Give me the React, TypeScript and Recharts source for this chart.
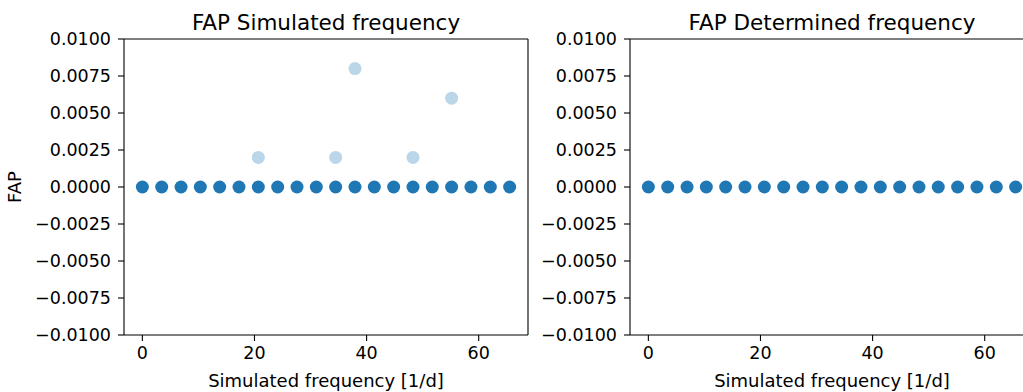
import { ScatterChart, Scatter, XAxis, YAxis, ReferenceLine } from 'recharts';

// simulated frequencies [1/d]
const freqs = [
  0, 3.45, 6.9, 10.34, 13.79, 17.24, 20.69, 24.14, 27.59, 31.03,
  34.48, 37.93, 41.38, 44.83, 48.28, 51.72, 55.17, 58.62, 62.07, 65.52,
];
const fapSimulated = [0, 0, 0, 0, 0, 0, 0, 0, 0, 0, 0, 0, 0, 0, 0, 0, 0, 0, 0, 0];
const fapDetermined = [0, 0, 0, 0, 0, 0, 0, 0, 0, 0, 0, 0, 0, 0, 0, 0, 0, 0, 0, 0];
// the few runs where the simulated FAP was non-zero
const outlierFreqs = [20.69, 34.48, 37.93, 48.28, 55.17];
const outlierFap = [0.002, 0.002, 0.008, 0.002, 0.006];

const xTicks = [0, 20, 40, 60];
const yTicks = [-0.01, -0.0075, -0.005, -0.0025, 0, 0.0025, 0.005, 0.0075, 0.01];

const simData = freqs.map((x, i) => ({ x, y: fapSimulated[i] }));
const detData = freqs.map((x, i) => ({ x, y: fapDetermined[i] }));
const outlierData = outlierFreqs.map((x, i) => ({ x, y: outlierFap[i] }));

const BLUE = '#1f77b4';
const FONT = '"DejaVu Sans", sans-serif';
const xDomain: [number, number] = [-3.276, 68.796];
const yDomain: [number, number] = [-0.01, 0.01];

const fmtY = (v: number) => v.toFixed(4).replace('-', '\u2212');

const dot = (opacity: number) => (props: any) => (
  <circle cx={props.cx} cy={props.cy} r={6.5} fill={BLUE} fillOpacity={opacity} />
);

const axisLine = { stroke: '#000', strokeWidth: 1.1 };
const tickLine = { stroke: '#000', strokeWidth: 1.1 };
const tickStyle = { fill: '#000', fontSize: 17.5, fontFamily: FONT };

function Panel({
  width,
  yWidth,
  right,
  showYLabel,
  data,
  extra,
}: {
  width: number;
  yWidth: number;
  right: number;
  showYLabel: boolean;
  data: { x: number; y: number }[];
  extra?: { x: number; y: number }[];
}) {
  return (
    <ScatterChart width={width} height={392} margin={{ top: 39, right, bottom: 0, left: 0 }}>
      <XAxis
        xAxisId="main"
        type="number"
        dataKey="x"
        domain={xDomain}
        ticks={xTicks}
        allowDataOverflow
        height={57}
        axisLine={axisLine}
        tickLine={tickLine}
        tickSize={6}
        tickMargin={6}
        tick={tickStyle}
        label={{
          value: 'Simulated frequency [1/d]',
          position: 'insideBottom',
          offset: 5,
          style: { fill: '#000', fontSize: 18, fontFamily: FONT },
        }}
      />
      <YAxis
        yAxisId="main"
        type="number"
        dataKey="y"
        domain={yDomain}
        ticks={yTicks}
        allowDataOverflow
        width={yWidth}
        axisLine={axisLine}
        tickLine={tickLine}
        tickSize={6}
        tickMargin={7}
        tick={tickStyle}
        tickFormatter={fmtY}
        label={
          showYLabel
            ? {
                value: 'FAP',
                angle: -90,
                position: 'insideLeft',
                offset: 15,
                style: { fill: '#000', fontSize: 18, fontFamily: FONT, textAnchor: 'middle' },
              }
            : undefined
        }
      />
      {/* top and right spines */}
      <ReferenceLine xAxisId="main" yAxisId="main" y={yDomain[1]} stroke="#000" strokeWidth={1.1} />
      <ReferenceLine xAxisId="main" yAxisId="main" x={xDomain[1]} stroke="#000" strokeWidth={1.1} />
      {extra && (
        <Scatter
          xAxisId="main"
          yAxisId="main"
          data={extra}
          shape={dot(0.3)}
          isAnimationActive={false}
        />
      )}
      <Scatter
        xAxisId="main"
        yAxisId="main"
        data={data}
        shape={dot(1)}
        isAnimationActive={false}
      />
    </ScatterChart>
  );
}

export default function App() {
  return (
    <div
      style={{
        position: 'fixed',
        left: 0,
        top: 0,
        width: 1023,
        height: 392,
        overflow: 'hidden',
        background: '#fff',
        fontFamily: FONT,
      }}
    >
      <div style={{ position: 'absolute', left: 0, top: 0 }}>
        <Panel width={540} yWidth={124} right={12} showYLabel data={simData} extra={outlierData} />
      </div>
      <div style={{ position: 'absolute', left: 520, top: 0 }}>
        <Panel width={530} yWidth={110} right={16} showYLabel={false} data={detData} />
      </div>
      <svg
        width={1023}
        height={40}
        style={{ position: 'absolute', left: 0, top: 0, pointerEvents: 'none' }}
      >
        <text x={326} y={30} textAnchor="middle" fontSize={21.5} fontFamily={FONT} fill="#000">
          FAP Simulated frequency
        </text>
        <text x={832} y={30} textAnchor="middle" fontSize={21.5} fontFamily={FONT} fill="#000">
          FAP Determined frequency
        </text>
      </svg>
    </div>
  );
}
